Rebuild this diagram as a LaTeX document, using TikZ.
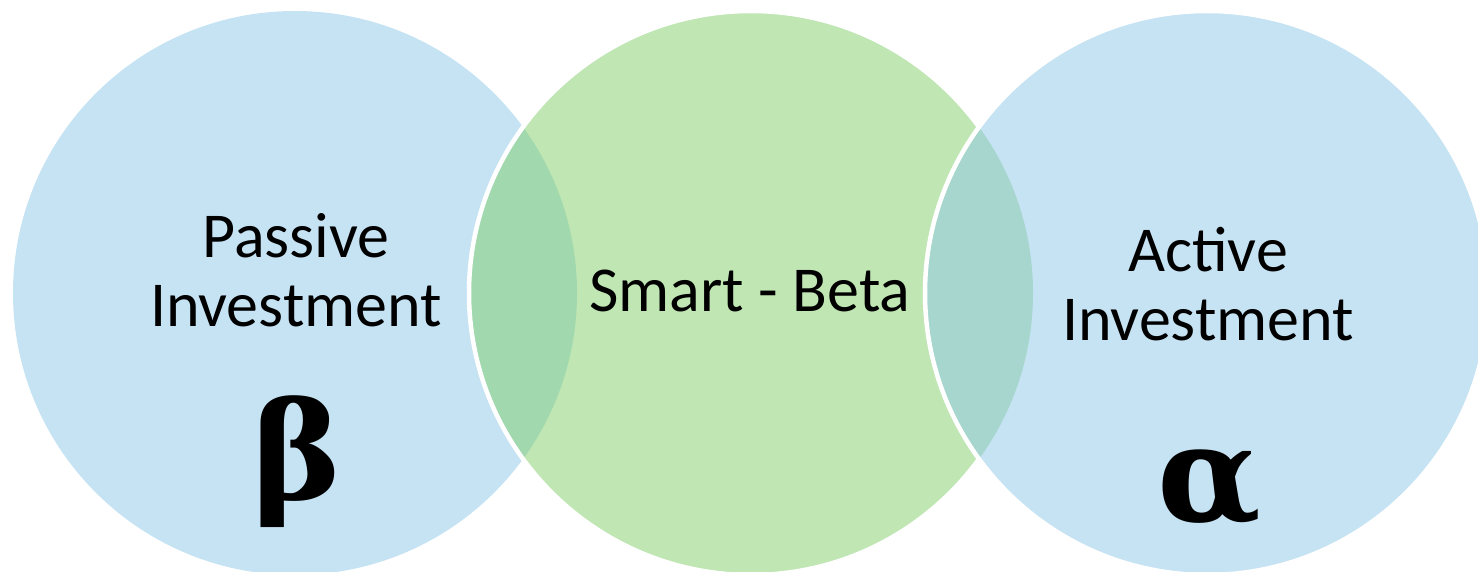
\documentclass[tikz,border=0pt]{standalone}
\usepackage{fontspec}
\setmainfont{Carlito}
\newfontfamily\greekfont{DejaVu Serif}
\definecolor{cblue}{RGB}{198,227,243}
\definecolor{cgreen}{RGB}{192,230,180}
\definecolor{cdkgreen}{RGB}{161,216,174}
\definecolor{cteal}{RGB}{166,214,205}
\tikzset{
  lbl/.style={align=center,inner sep=0pt,font=\fontsize{64}{69}\selectfont},
  greek/.style={inner sep=0pt,font=\greekfont\bfseries\fontsize{135}{135}\selectfont},
  gap/.style={draw=white,line width=4.5pt}
}
\begin{document}
\begin{tikzpicture}[x=1pt,y=-1pt]
\useasboundingbox (0,0) rectangle (1478,572);
\clip (0,0) rectangle (1478,572);
\def\R{282}
\coordinate (cl) at (295,293);
\coordinate (cm) at (751,293);
\coordinate (cr) at (1207,293);
% left circle
\fill[cblue] (cl) circle[radius=\R];
% middle circle
\fill[cgreen] (cm) circle[radius=\R];
\begin{scope}
  \clip (cl) circle[radius=\R];
  \fill[cdkgreen] (cm) circle[radius=\R];
\end{scope}
\draw[gap] (cm) circle[radius=\R];
% right circle
\fill[cblue] (cr) circle[radius=\R];
\begin{scope}
  \clip (cm) circle[radius=\R];
  \fill[cteal] (cr) circle[radius=\R];
\end{scope}
\draw[gap] (cr) circle[radius=\R];
% texts
\node[lbl] (passive) at (296,270) {Passive\\Investment};
\node[lbl] (smart) at (750,291) {Smart - Beta};
\node[lbl] (active) at (1208,284) {Active\\Investment};
\node[greek] (beta) at (297,462) {β};
\node[greek] (alpha) at (1209,488) {α};
\end{tikzpicture}
\end{document}
